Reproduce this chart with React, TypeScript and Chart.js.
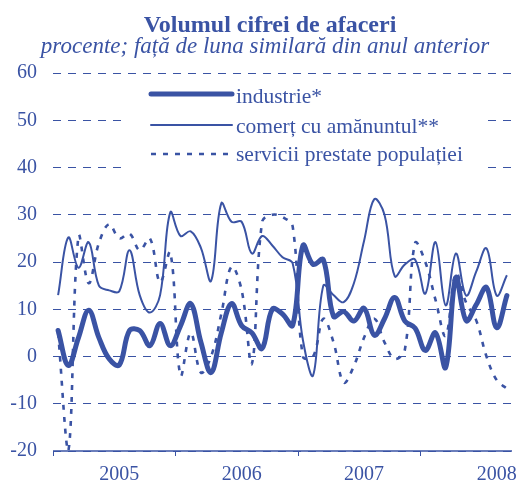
import React, { useEffect, useRef } from "react";
import { Chart, registerables } from "chart.js";
Chart.register(...registerables);

// ---- data ----
const YEARS = ["2005", "2006", "2007", "2008"];
const MONTH_CODES = ["01", "02", "03", "04", "05", "06", "07", "08", "09", "10", "11", "12"];
const N_MONTHS = 45; // Jan 2005 .. Sep 2008
const CATEGORIES: string[] = [];
for (const y of YEARS) for (const m of MONTH_CODES) CATEGORIES.push(`${y}-${m}`);
const LABELS = CATEGORIES.slice(0, N_MONTHS);

// category at which each year label is centered
const YEAR_LABEL_AT = ["2005-07", "2006-07", "2007-07", "2008-08"];
// first month of each year (tick marks on the axis)
const YEAR_START = ["2005-01", "2006-01", "2007-01", "2008-01"];

const TITLE = "Volumul cifrei de afaceri";
const SUBTITLE = "procente; față de luna similară din anul anterior";

const SERIES_NAMES = ["industrie*", "comerț cu amănuntul**", "servicii prestate populației"];

const INDUSTRIE = [
  5.5, -1.9, 4, 9.8, 4, -0.5, -1.8, 5.5, 5.5, 2.3, 7, 2.3,
  6.5, 11.2, 3, -3.4, 5, 11.2, 6.5, 5, 1.7, 10, 9, 6.6,
  23.5, 19.5, 20.5, 8.5, 9.5, 7.5, 10.2, 4.5, 8, 12.5, 7.5, 6,
  1.3, 5, -2.3, 16.7, 7.6, 11, 14.6, 6.1, 12.9,
];
const COMERT = [
  13, 25.2, 18.8, 24.2, 15, 14, 13.8, 22.5, 13, 9.3, 13, 30.5,
  25.5, 26.5, 23, 16, 32.4, 28.5, 28.5, 21.8, 25.5, 23.5, 21, 19.7,
  3.5, -4, 15, 13, 11.5, 15.5, 24.5, 33.3, 30, 17, 19.5, 20.5,
  13.3, 24.2, 10.8, 21.8, 12.9, 18, 22.9, 12.9, 17.2,
];
const SERVICII = [
  5, -20, 25.5, 15.5, 24, 28, 25, 26, 22.5, 25, 15.7, 22,
  -4, 5, -3.4, 0, 9, 19, 14, -1.5, 28.5, 30, 29.5, 27.5,
  0, 0, 8, 3, -5.5, -2, 4, 8, 3, -0.5, 1.5, 24,
  20, 12, 4.4, 17.6, 11.4, 7.6, 0, -5, -6.8,
];

const Y_MIN = -20;
const Y_MAX = 60;
const Y_STEP = 10;

// ---- style ----
const BLUE = "#3A53A4";
const FONT = '"Liberation Serif", "Times New Roman", serif';

const decorPlugin = {
  id: "decor",
  beforeDatasetsDraw(chart: any) {
    const ctx = chart.ctx;
    ctx.save();
    ctx.fillStyle = "#ffffff";
    ctx.fillRect(123, 79, 359, 96);
    ctx.restore();
  },
  afterDraw(chart: any) {
    const ctx = chart.ctx;
    const xs = chart.scales.x;
    const area = chart.chartArea;
    ctx.save();
    // titles
    ctx.fillStyle = BLUE;
    ctx.textAlign = "center";
    ctx.textBaseline = "alphabetic";
    ctx.font = `bold 24px ${FONT}`;
    ctx.fillText(TITLE, 270, 32);
    ctx.font = `italic 23px ${FONT}`;
    ctx.fillText(SUBTITLE, 265, 53);

    // x axis line
    ctx.strokeStyle = BLUE;
    ctx.lineWidth = 1.3;
    ctx.setLineDash([]);
    ctx.beginPath();
    ctx.moveTo(area.left, area.bottom);
    ctx.lineTo(area.right, area.bottom);
    ctx.stroke();
    // year boundary ticks
    ctx.lineWidth = 1;
    for (const c of YEAR_START) {
      const i = LABELS.indexOf(c);
      if (i < 0) continue;
      const x = i === 0 ? area.left : (xs.getPixelForValue(i - 1) + xs.getPixelForValue(i)) / 2;
      const xx = Math.round(x) + 0.5;
      ctx.beginPath();
      ctx.moveTo(xx, area.bottom);
      ctx.lineTo(xx, area.bottom + 5);
      ctx.stroke();
    }
    // year labels
    ctx.font = `20px ${FONT}`;
    ctx.textBaseline = "middle";
    ctx.textAlign = "center";
    YEARS.forEach((y, k) => {
      const i = LABELS.indexOf(YEAR_LABEL_AT[k]);
      if (i < 0) return;
      ctx.fillText(y, xs.getPixelForValue(i), area.bottom + 24);
    });

    // legend
    const rows = [
      { y: 94, ty: 97, ds: chart.data.datasets[0] },
      { y: 125, ty: 127, ds: chart.data.datasets[1] },
      { y: 154, ty: 155, ds: chart.data.datasets[2] },
    ];
    ctx.font = `21.5px ${FONT}`;
    ctx.textAlign = "left";
    ctx.textBaseline = "middle";
    rows.forEach((r) => {
      ctx.strokeStyle = r.ds.borderColor;
      ctx.lineWidth = r.ds.borderWidth;
      ctx.lineCap = r.ds.borderDash && r.ds.borderDash.length ? "butt" : "round";
      ctx.setLineDash(r.ds.borderDash || []);
      ctx.beginPath();
      ctx.moveTo(151, r.y);
      ctx.lineTo(232, r.y);
      ctx.stroke();
      ctx.setLineDash([]);
      ctx.fillStyle = BLUE;
      ctx.fillText(r.ds.label, 236, r.ty);
    });
    ctx.restore();
  },
};

export default function App() {
  const ref = useRef<HTMLCanvasElement | null>(null);
  useEffect(() => {
    document.body.style.margin = "0";
    const canvas = ref.current!;
    const chart = new Chart(canvas, {
      type: "line",
      data: {
        labels: LABELS,
        datasets: [
          {
            label: SERIES_NAMES[0],
            data: INDUSTRIE,
            borderColor: BLUE,
            borderWidth: 5,
            borderCapStyle: "round",
            borderJoinStyle: "round",
            pointRadius: 0,
            tension: 0.38,
            fill: false,
          },
          {
            label: SERIES_NAMES[1],
            data: COMERT,
            borderColor: BLUE,
            borderWidth: 2,
            pointRadius: 0,
            tension: 0.38,
            fill: false,
          },
          {
            label: SERIES_NAMES[2],
            data: SERVICII,
            borderColor: BLUE,
            borderWidth: 2.6,
            borderDash: [5, 7],
            pointRadius: 0,
            tension: 0.38,
            fill: false,
          },
        ],
      },
      options: {
        animation: false,
        responsive: false,
        devicePixelRatio: 1,
        layout: { padding: { top: 73, right: 7, bottom: 0, left: 0 } },
        plugins: {
          legend: { display: false },
          title: { display: false },
          tooltip: { enabled: false },
        },
        scales: {
          x: {
            type: "category",
            offset: true,
            grid: { display: false },
            border: { display: false },
            ticks: { display: false },
            afterFit(scale: any) {
              scale.height = 31;
            },
          },
          y: {
            min: Y_MIN,
            max: Y_MAX,
            ticks: {
              stepSize: Y_STEP,
              color: BLUE,
              font: { family: FONT, size: 20 },
              padding: 16,
            },
            grid: {
              color: BLUE,
              lineWidth: 1,
              drawTicks: false,
            },
            border: { display: false, dash: [8, 7] },
            afterFit(scale: any) {
              scale.width = 53;
            },
          },
        },
      },
      plugins: [decorPlugin],
    } as any);
    return () => chart.destroy();
  }, []);
  return (
    <canvas
      ref={ref}
      width={519}
      height={482}
      style={{ display: "block", width: 519, height: 482 }}
    />
  );
}
